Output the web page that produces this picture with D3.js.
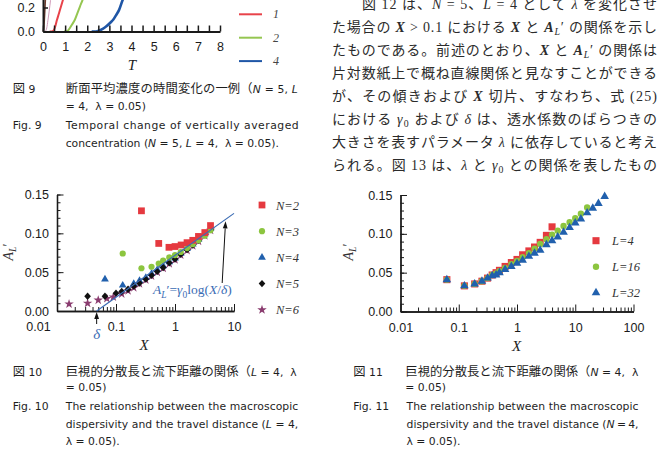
<!DOCTYPE html>
<html>
<head>
<meta charset="utf-8">
<script src="https://cdn.jsdelivr.net/npm/d3@7"></script>
<style>
  body { margin: 0; background: #fff; }
  svg { display: block; }
  text { white-space: pre; }
  .axis path, .axis line { stroke: #1a1a1a; }
  .axis path { stroke-width: 1.3; }
  .axis text { fill: #1a1a1a; font-family: 'Liberation Sans', Arial, sans-serif; font-size: 12.5px; }
  .a9 path { stroke-width: 2; }
  .a9 line { stroke-width: 1.5; }
</style>
</head>
<body>
<script>
//---- Fig 9: vertically averaged concentration vs T (only the bottom of it is on the page)
var fig9Labels = ["", "", "1", "2", "4"];
var fig9Colors = ["#6e3b2c", "#cf9ab8", "#e8434a", "#95c651", "#1f56a6"];
var fig9Widths = [1.6, 1, 2, 2, 2.6];
var fig9T = [
  [0.0, 0.02, 0.05, 0.08, 0.11, 0.14],
  [0.08, 0.12, 0.17, 0.22, 0.28, 0.34, 0.4],
  [0.3, 0.4, 0.47, 0.55, 0.63, 0.72, 0.81, 0.9, 1.0, 1.1],
  [0.95, 1.05, 1.12, 1.2, 1.32, 1.44, 1.56, 1.67, 1.79, 1.9],
  [2.2, 2.35, 2.5, 2.7, 2.88, 3.05, 3.18, 3.3, 3.44, 3.6, 3.75]
];
var fig9C = [
  [0, 0.01, 0.07, 0.17, 0.28, 0.38],
  [0, 0.005, 0.03, 0.09, 0.17, 0.26, 0.35],
  [0, 0, 0.006, 0.04, 0.095, 0.15, 0.207, 0.262, 0.32, 0.38],
  [0, 0, 0.006, 0.025, 0.06, 0.098, 0.155, 0.208, 0.264, 0.32],
  [0, 0, 0.006, 0.022, 0.045, 0.075, 0.1, 0.135, 0.18, 0.262, 0.32]
];

//---- Fig 10: A_L' vs X for N = 2..6
var fig10Series = ["N=2", "N=3", "N=4", "N=5", "N=6"];
var fig10X = [
  [0.27, 0.53, 0.79, 1.0, 1.27, 1.6, 2.0, 2.5, 3.2, 4.0],
  [0.13, 0.27, 0.4, 0.53, 0.63, 0.8, 1.0, 1.25, 1.6, 2.0, 2.5, 3.2, 4.0],
  [0.065, 0.13, 0.2, 0.25, 0.32, 0.4, 0.5, 0.63, 0.8, 1.0, 1.25, 1.6, 2.0, 2.5, 3.2, 4.0],
  [0.033, 0.065, 0.1, 0.125, 0.16, 0.2, 0.25, 0.32, 0.4, 0.5, 0.63, 0.8, 1.0, 1.25, 1.6, 2.0, 2.5, 3.2, 4.0],
  [0.016, 0.033, 0.05, 0.07, 0.09, 0.125, 0.16, 0.2, 0.25, 0.32, 0.4, 0.5, 0.63, 0.8, 1.0, 1.25, 1.6, 2.0, 2.5, 3.2, 4.0]
];
var fig10A = [
  [0.129, 0.087, 0.082, 0.083, 0.085, 0.088, 0.091, 0.096, 0.101, 0.110],
  [0.074, 0.055, 0.057, 0.061, 0.065, 0.069, 0.072, 0.076, 0.081, 0.086, 0.091, 0.097, 0.104],
  [0.041, 0.033, 0.035, 0.039, 0.043, 0.048, 0.053, 0.058, 0.063, 0.068, 0.074, 0.080, 0.086, 0.092, 0.099, 0.106],
  [0.019, 0.019, 0.023, 0.025, 0.028, 0.032, 0.036, 0.041, 0.046, 0.051, 0.056, 0.062, 0.067, 0.073, 0.079, 0.085, 0.091, 0.098, 0.105],
  [0.009, 0.010, 0.014, 0.016, 0.018, 0.022, 0.026, 0.030, 0.035, 0.040, 0.045, 0.050, 0.055, 0.061, 0.066, 0.072, 0.078, 0.084, 0.090, 0.097, 0.104]
];
var fig10Order = [4, 2, 3, 1, 0];
var fitDelta = 0.047, fitGamma0 = 0.054, fitXEnd = 10, fitArrowX = 7.2;

//---- Fig 11: A_L' vs X for L = 4, 16, 32
var fig11Series = ["L=4", "L=16", "L=32"];
var fig11X = [
  [0.0625, 0.125, 0.1875, 0.25, 0.3125, 0.375, 0.4375, 0.5, 0.625, 0.8, 1.0, 1.25, 1.6, 2.0, 2.5, 3.2, 4.0],
  [0.0625, 0.125, 0.1875, 0.25, 0.3125, 0.375, 0.4375, 0.5, 0.625, 0.8, 1.0, 1.25, 1.6, 2.0, 2.5, 3.2, 4.0, 5.0, 6.3, 8.0, 10, 12.5, 16],
  [0.0625, 0.125, 0.1875, 0.25, 0.3125, 0.375, 0.4375, 0.5, 0.625, 0.8, 1.0, 1.25, 1.6, 2.0, 2.5, 3.2, 4.0, 5.0, 6.3, 8.0, 10, 12.5, 16, 20, 25, 32]
];
var fig11A = [
  [0.041, 0.033, 0.0355, 0.039, 0.043, 0.047, 0.050, 0.053, 0.058, 0.063, 0.067, 0.073, 0.078, 0.083, 0.089, 0.098, 0.109],
  [0.041, 0.033, 0.0355, 0.039, 0.043, 0.047, 0.049, 0.052, 0.056, 0.061, 0.065, 0.070, 0.075, 0.081, 0.087, 0.093, 0.099, 0.104, 0.110, 0.115, 0.120, 0.126, 0.134],
  [0.041, 0.033, 0.0355, 0.039, 0.043, 0.046, 0.047, 0.050, 0.054, 0.058, 0.062, 0.066, 0.071, 0.075, 0.079, 0.086, 0.091, 0.096, 0.102, 0.108, 0.114, 0.119, 0.127, 0.133, 0.139, 0.148]
];

var yTicksA = [0, 0.05, 0.10, 0.15];
var fig10XTicks = [0.01, 0.1, 1, 10];
var fig11XTicks = [0.01, 0.1, 1, 10, 100];

var SERIF = "'Liberation Serif', 'Times New Roman', serif";
var CAP = "'DejaVu Sans', 'Noto Sans CJK JP', sans-serif";
var BODY = "'Liberation Serif', 'Noto Sans CJK JP', serif";

var svg = d3.select("body").append("svg").attr("width", 660).attr("height", 452);
svg.append("rect").attr("width", 660).attr("height", 452).attr("fill", "#fff");

// text with italic / bold / subscript pieces
function rich(t, parts, sub) {
  var shift = 0;
  parts.forEach(function (p) {
    var f = p[1] || "";
    var s = t.append("tspan").text(p[0]);
    if (f.indexOf("i") > -1) s.style("font-style", "italic");
    if (f.indexOf("b") > -1) s.style("font-weight", "bold");
    if (f.indexOf("j") > -1) s.style("font-size", "12.3px");
    var want = f.indexOf("s") > -1 ? sub : 0;
    if (want) s.style("font-size", "0.7em");
    if (want !== shift) { s.attr("dy", want - shift); shift = want; }
  });
  return t;
}

function arrow(g, x1, y1, x2, y2, color) {
  var a = Math.atan2(y2 - y1, x2 - x1), L = 7, w = 2.4;
  var bx = x2 - L * Math.cos(a), by = y2 - L * Math.sin(a);
  g.append("line").attr("x1", x1).attr("y1", y1).attr("x2", bx).attr("y2", by)
    .attr("stroke", color).attr("stroke-width", 1);
  g.append("path").attr("fill", color)
    .attr("d", "M" + x2 + "," + y2 + "L" + (bx + w * Math.sin(a)) + "," + (by - w * Math.cos(a)) +
      "L" + (bx - w * Math.sin(a)) + "," + (by + w * Math.cos(a)) + "Z");
}

//================ Fig 9 (partial) ================
var x9 = d3.scaleLinear().domain([0, 8]).range([43, 220]);
var y9 = d3.scaleLinear().domain([0, 0.3]).range([31.5, -4.5]);
var g9 = svg.append("g");
var line9 = d3.line().x(function (d) { return x9(d[0]); }).y(function (d) { return y9(d[1]); })
  .curve(d3.curveMonotoneX);
fig9T.forEach(function (ts, i) {
  g9.append("path").attr("fill", "none").attr("stroke", fig9Colors[i]).attr("stroke-width", fig9Widths[i])
    .attr("d", line9(ts.map(function (t, j) { return [t, fig9C[i][j]]; })));
});
g9.append("g").attr("class", "axis a9").attr("transform", "translate(0," + y9(0) + ")")
  .call(d3.axisBottom(x9).tickValues(d3.range(0, 8.01, 0.5)).tickSizeInner(-6).tickSizeOuter(0)
    .tickPadding(10.5).tickFormat(function (d) { return d % 1 ? "" : d; }));
g9.append("g").attr("class", "axis a9").attr("transform", "translate(" + x9(0) + ",0)")
  .call(d3.axisLeft(y9).tickValues([0, 0.2]).tickSizeInner(-5).tickSizeOuter(0).tickPadding(8)
    .tickFormat(d3.format(".1f")));
g9.append("text").attr("x", 132).attr("y", 70).attr("text-anchor", "middle")
  .style("font-family", SERIF).style("font-style", "italic").style("font-size", "15px").attr("fill", "#222").text("T");
// legend
var k9 = 0;
fig9Labels.forEach(function (lab, i) {
  if (!lab) return;
  var yy = 14.3 + 23.4 * k9++;
  g9.append("line").attr("x1", 239).attr("x2", 262).attr("y1", yy).attr("y2", yy)
    .attr("stroke", fig9Colors[i]).attr("stroke-width", 2);
  g9.append("text").attr("x", 273).attr("y", yy + 4).style("font-family", SERIF).style("font-style", "italic")
    .style("font-size", "12px").attr("fill", "#444").text(lab);
});

//================ shared pieces for Fig 10 / 11 ================
var diamond = { draw: function (ctx, size) {
  var r = Math.sqrt(size / 2);
  ctx.moveTo(0, -r * 1.12); ctx.lineTo(r, 0); ctx.lineTo(0, r * 1.12); ctx.lineTo(-r, 0); ctx.closePath();
} };
var symTypes = { "N=2": d3.symbolSquare, "N=3": d3.symbolCircle, "N=4": d3.symbolTriangle, "N=5": diamond, "N=6": d3.symbolStar,
  "L=4": d3.symbolSquare, "L=16": d3.symbolCircle, "L=32": d3.symbolTriangle };
var symSizes = { "N=2": 46, "N=3": 30, "N=4": 26, "N=5": 22, "N=6": 28, "L=4": 50, "L=16": 32, "L=32": 32 };
var symColors = { "N=2": "#e5393f", "N=3": "#8cc53f", "N=4": "#2160ad", "N=5": "#111111", "N=6": "#8a3c6f",
  "L=4": "#e5393f", "L=16": "#8cc53f", "L=32": "#2160ad" };

function sym(name) { return d3.symbol().type(symTypes[name]).size(symSizes[name])(); }

function frame(g, xs, ys, xTicks, firstDx, axisX, axisY) {
  var minors = [];
  xTicks.slice(0, -1).forEach(function (m) { for (var k = 2; k < 10; k++) minors.push(m * k); });
  var by = ys.range()[0];
  g.append("g").attr("class", "axis").attr("transform", "translate(0," + by + ")")
    .call(d3.axisBottom(xs).tickValues(minors).tickSizeInner(-4).tickSizeOuter(0).tickFormat(""));
  var xa = g.append("g").attr("class", "axis").attr("transform", "translate(0," + by + ")")
    .call(d3.axisBottom(xs).tickValues(xTicks).tickSizeInner(-7).tickSizeOuter(0).tickPadding(11.5)
      .tickFormat(function (d) { return String(d); }));
  xa.selectAll("text").attr("dx", function (d, i) { return i === 0 ? firstDx : 0; });
  var lx = xs.range()[0];
  g.append("g").attr("class", "axis").attr("transform", "translate(" + lx + ",0)")
    .call(d3.axisLeft(ys).tickValues(d3.range(0, 0.1501, 0.01)).tickSizeInner(-3.5).tickSizeOuter(0).tickFormat(""));
  g.append("g").attr("class", "axis").attr("transform", "translate(" + lx + ",0)")
    .call(d3.axisLeft(ys).tickValues(yTicksA).tickSizeInner(-6.5).tickSizeOuter(0).tickPadding(8)
      .tickFormat(d3.format(".2f")));
  g.append("text").attr("x", axisX).attr("y", by + 39).attr("text-anchor", "middle")
    .style("font-family", SERIF).style("font-style", "italic").style("font-size", "15px").attr("fill", "#222").text("X");
  var yl = g.append("text").attr("transform", "translate(" + axisY + ",252) rotate(-90)").attr("text-anchor", "middle")
    .style("font-family", SERIF).style("font-size", "14px").attr("fill", "#333");
  rich(yl, [["A", "i"], ["L", "is"], ["\u2032", ""]], 3);
}

function markers(g, xs, ys, name, xv, av) {
  g.append("g").selectAll("path").data(xv).enter().append("path")
    .attr("transform", function (d, j) { return "translate(" + xs(d) + "," + ys(av[j]) + ")"; })
    .attr("d", sym(name)).attr("fill", symColors[name]);
}

function legend(g, names, mx, tx, y0, step) {
  names.forEach(function (n, k) {
    var yy = y0 + step * k;
    g.append("path").attr("transform", "translate(" + mx + "," + yy + ")").attr("d", sym(n)).attr("fill", symColors[n]);
    g.append("text").attr("x", tx).attr("y", yy + 4.5).style("font-family", SERIF).style("font-style", "italic")
      .style("font-size", "12.5px").attr("fill", "#333").text(n);
  });
}

//================ Fig 10 ================
var x10 = d3.scaleLog().domain([0.01, 10]).range([57, 234]);
var y10 = d3.scaleLinear().domain([0, 0.15]).range([311, 194.5]);
var g10 = svg.append("g");
frame(g10, x10, y10, fig10XTicks, -19, 144, 13);
fig10Order.forEach(function (i) { markers(g10, x10, y10, fig10Series[i], fig10X[i], fig10A[i]); });
var fitA = function (x) { return fitGamma0 * Math.log10(x / fitDelta); };
g10.append("path").attr("fill", "none").attr("stroke", "#3b6cb4").attr("stroke-width", 1.2)
  .attr("d", d3.line().x(function (d) { return x10(d); }).y(function (d) { return y10(fitA(d)); })([fitDelta, fitXEnd]));
legend(g10, fig10Series, 262, 276, 205, 26.2);
// delta arrow
var xd = x10(fitDelta);
arrow(g10, xd, 324, xd, y10(0) + 1, "#111");
g10.append("text").attr("x", xd).attr("y", 339).attr("text-anchor", "middle").style("font-family", SERIF)
  .style("font-style", "italic").style("font-size", "15px").attr("fill", "#3b6cb4").text("\u03b4");
// formula + arrow
var fx = x10(fitArrowX);
arrow(g10, fx - 3.4, 283, fx, y10(fitA(fitArrowX)) + 2, "#111");
var ft = g10.append("text").attr("x", 153).attr("y", 294).style("font-family", SERIF).style("font-size", "13.5px").attr("fill", "#3b6cb4");
rich(ft, [["A", "i"], ["L", "is"], ["\u2032=", ""], ["\u03b3", "i"], ["0", "s"], ["log(", ""], ["X", "i"], ["/", ""], ["\u03b4", "i"], [")", ""]], 3.5);

//================ Fig 11 ================
var x11 = d3.scaleLog().domain([0.01, 100]).range([400.5, 633.5]);
var y11 = d3.scaleLinear().domain([0, 0.15]).range([311.5, 195]);
var g11 = svg.append("g");
frame(g11, x11, y11, fig11XTicks, 0, 516.5, 352.5);
fig11Series.forEach(function (n, i) { markers(g11, x11, y11, n, fig11X[i], fig11A[i]); });
legend(g11, fig11Series, 596, 612, 240.7, 26);

//================ captions ================
var captions = [
  { x: 12.7, y: 92.5, parts: [["\u56f3", "j"], [" 9", ""]] },
  { x: 65.7, y: 92.5, len: 232, parts: [["\u65ad\u9762\u5e73\u5747\u6fc3\u5ea6\u306e\u6642\u9593\u5909\u5316\u306e\u4e00\u4f8b\uff08", "j"], ["N", "i"], [" = 5, ", ""], ["L", "i"]] },
  { x: 65.7, y: 110, parts: [["= 4,  \u03bb = 0.05)", ""]] },
  { x: 12.7, y: 128.5, parts: [["Fig. 9", ""]] },
  { x: 65.7, y: 128.5, len: 233, parts: [["Temporal change of vertically averaged", ""]] },
  { x: 65.7, y: 146.5, parts: [["concentration (", ""], ["N", "i"], [" = 5, ", ""], ["L", "i"], [" = 4,  \u03bb = 0.05).", ""]] },

  { x: 12.7, y: 375.5, parts: [["\u56f3", "j"], [" 10", ""]] },
  { x: 65.7, y: 375.5, len: 231, parts: [["\u5de8\u8996\u7684\u5206\u6563\u9577\u3068\u6d41\u4e0b\u8ddd\u96e2\u306e\u95a2\u4fc2\uff08", "j"], ["L", "i"], [" = 4,  \u03bb", ""]] },
  { x: 65.7, y: 391, parts: [["= 0.05)", ""]] },
  { x: 12.7, y: 410, parts: [["Fig. 10", ""]] },
  { x: 65.7, y: 410, len: 232.6, parts: [["The relationship between the macroscopic", ""]] },
  { x: 65.7, y: 427.5, len: 232.6, parts: [["dispersivity and the travel distance (", ""], ["L", "i"], [" = 4,", ""]] },
  { x: 65.7, y: 445, parts: [["\u03bb = 0.05).", ""]] },

  { x: 353.3, y: 375.5, parts: [["\u56f3", "j"], [" 11", ""]] },
  { x: 405.3, y: 375.5, len: 233, parts: [["\u5de8\u8996\u7684\u5206\u6563\u9577\u3068\u6d41\u4e0b\u8ddd\u96e2\u306e\u95a2\u4fc2\uff08", "j"], ["N", "i"], [" = 4,  \u03bb", ""]] },
  { x: 405.3, y: 391, parts: [["= 0.05)", ""]] },
  { x: 353.3, y: 410, parts: [["Fig. 11", ""]] },
  { x: 406.5, y: 410, len: 232, parts: [["The relationship between the macroscopic", ""]] },
  { x: 406.5, y: 427.5, len: 232, parts: [["dispersivity and the travel distance (", ""], ["N", "i"], ["\u2009=\u20094,", ""]] },
  { x: 406.5, y: 445, parts: [["\u03bb = 0.05).", ""]] }
];
captions.forEach(function (c) {
  var t = svg.append("text").attr("x", c.x).attr("y", c.y).style("font-family", CAP)
    .style("font-size", "10.8px").attr("fill", "#1e1e1e");
  if (c.len) t.attr("textLength", c.len).attr("lengthAdjust", "spacing");
  rich(t, c.parts, 3);
});

//================ body text (right column) ================
var bodyLines = [
  { x: 362, parts: [["\u56f3 12 \u306f\u3001"], ["N", "i"], [" = 5\u3001"], ["L", "i"], [" = 4 \u3068\u3057\u3066 "], ["\u03bb", "i"], [" \u3092\u5909\u5316\u3055\u305b"]] },
  { x: 332, parts: [["\u305f\u5834\u5408\u306e "], ["X", "bi"], [" > 0.1 \u306b\u304a\u3051\u308b "], ["X", "bi"], [" \u3068 "], ["A", "bi"], ["L", "is"], ["\u2032 \u306e\u95a2\u4fc2\u3092\u793a\u3057"]] },
  { x: 332, parts: [["\u305f\u3082\u306e\u3067\u3042\u308b\u3002\u524d\u8ff0\u306e\u3068\u304a\u308a\u3001"], ["X", "bi"], [" \u3068 "], ["A", "bi"], ["L", "is"], ["\u2032 \u306e\u95a2\u4fc2\u306f"]] },
  { x: 332, parts: [["\u7247\u5bfe\u6570\u7d19\u4e0a\u3067\u6982\u306d\u76f4\u7dda\u95a2\u4fc2\u3068\u898b\u306a\u3059\u3053\u3068\u304c\u3067\u304d\u308b"]] },
  { x: 332, parts: [["\u304c\u3001\u305d\u306e\u50be\u304d\u304a\u3088\u3073 "], ["X", "bi"], [" \u5207\u7247\u3001\u3059\u306a\u308f\u3061\u3001\u5f0f (25)"]] },
  { x: 332, parts: [["\u306b\u304a\u3051\u308b "], ["\u03b3", "i"], ["0", "s"], [" \u304a\u3088\u3073 "], ["\u03b4", "i"], [" \u306f\u3001\u900f\u6c34\u4fc2\u6570\u306e\u3070\u3089\u3064\u304d\u306e"]] },
  { x: 332, parts: [["\u5927\u304d\u3055\u3092\u8868\u3059\u30d1\u30e9\u30e1\u30fc\u30bf "], ["\u03bb", "i"], [" \u306b\u4f9d\u5b58\u3057\u3066\u3044\u308b\u3068\u8003\u3048"]] },
  { x: 332, parts: [["\u3089\u308c\u308b\u3002\u56f3 13 \u306f\u3001"], ["\u03bb", "i"], [" \u3068 "], ["\u03b3", "i"], ["0", "s"], [" \u3068\u306e\u95a2\u4fc2\u3092\u8868\u3057\u305f\u3082\u306e"]] }
];
bodyLines.forEach(function (l, i) {
  var t = svg.append("text").attr("x", l.x).attr("y", 8.5 + 23 * i).style("font-family", BODY)
    .style("font-size", "14px").attr("fill", "#2b2b2b")
    .attr("textLength", 657 - l.x).attr("lengthAdjust", "spacing");
  rich(t, l.parts, 3.5);
});
</script>
</body>
</html>
